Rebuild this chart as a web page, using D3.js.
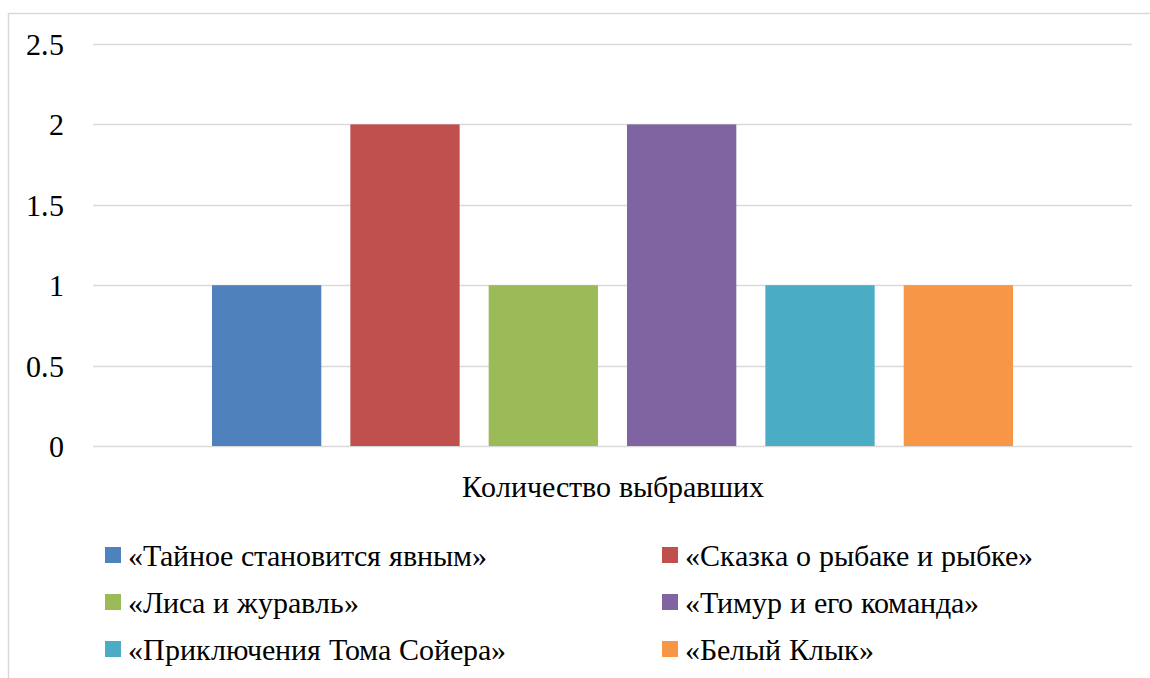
<!DOCTYPE html>
<meta charset="utf-8">
<style>
    @font-face {
        font-family: "ChartSerif";
        src: local("Liberation Serif"), local("LiberationSerif"), local("Liberation Serif Regular"), local("Times New Roman");
    }

    html,
    body {
        margin: 0;
        padding: 0;
        background: #fff;
    }
</style>
<body>
<svg width="1150" height="678"></svg>
<script src="https://d3js.org/d3.v7.min.js"></script>
<script>
    // chart data
    const category = "Количество выбравших";
    const books = [
        "«Тайное становится явным»",
        "«Сказка о рыбаке и рыбке»",
        "«Лиса и журавль»",
        "«Тимур и его команда»",
        "«Приключения Тома Сойера»",
        "«Белый Клык»"
    ];
    const votes = [1, 2, 1, 2, 1, 1];
    const yTicks = [0, 0.5, 1, 1.5, 2, 2.5];
    const colors = ["#4f81bd", "#c0504d", "#9bbb59", "#8064a2", "#4bacc6", "#f79646"];

    var fontSize = 30;
    var fontFamily = "ChartSerif, 'Liberation Serif', 'Times New Roman', serif";

    var svg = d3.select("svg");

    // outer chart frame (runs off the right and bottom edges)
    svg.append("rect")
        .attr("x", 8.5)
        .attr("y", 13.5)
        .attr("width", 1160)
        .attr("height", 700)
        .attr("fill", "none")
        .attr("stroke", "#d9d9d9")
        .attr("stroke-width", 1.5);

    var plot = { left: 93, right: 1132, top: 44, bottom: 446 };

    var y = d3.scaleLinear()
        .domain([0, 2.5])
        .range([plot.bottom, plot.top]);

    var x0 = d3.scaleBand()
        .domain([category])
        .range([plot.left, plot.right]);

    // series inside the single category
    var x1 = d3.scaleBand()
        .domain(books)
        .range([212, 1013])
        .paddingInner(0.21)
        .paddingOuter(0);

    // gridlines
    svg.append("g")
        .selectAll("line")
        .data(yTicks)
        .enter().append("line")
        .attr("x1", plot.left)
        .attr("x2", plot.right)
        .attr("y1", d => Math.round(y(d)) + 0.5)
        .attr("y2", d => Math.round(y(d)) + 0.5)
        .attr("stroke", "#d9d9d9")
        .attr("stroke-width", 1.5);

    // y tick labels
    svg.append("g")
        .selectAll("text")
        .data(yTicks)
        .enter().append("text")
        .attr("x", 64)
        .attr("y", d => y(d) + 11)
        .attr("text-anchor", "end")
        .attr("font-family", fontFamily)
        .attr("font-size", fontSize)
        .text(d => d3.format("")(d));

    // bars
    svg.append("g")
        .selectAll("rect")
        .data(books)
        .enter().append("rect")
        .attr("x", d => x1(d))
        .attr("y", (d, i) => y(votes[i]))
        .attr("width", x1.bandwidth())
        .attr("height", (d, i) => y(0) - y(votes[i]))
        .attr("fill", (d, i) => colors[i]);

    // category label
    svg.append("text")
        .attr("x", x0(category) + x0.bandwidth() / 2)
        .attr("y", 497)
        .attr("text-anchor", "middle")
        .attr("font-family", fontFamily)
        .attr("font-size", fontSize)
        .text(category);

    // legend, two columns
    var legend = svg.append("g")
        .selectAll("g")
        .data(books)
        .enter().append("g")
        .attr("transform", (d, i) => "translate(" + (i % 2 === 0 ? 105 : 662) + "," + (547 + Math.floor(i / 2) * 47) + ")");

    legend.append("rect")
        .attr("width", 16)
        .attr("height", 16)
        .attr("fill", (d, i) => colors[i]);

    legend.append("text")
        .attr("x", 23)
        .attr("y", 19)
        .attr("font-family", fontFamily)
        .attr("font-size", fontSize)
        .text(d => d);
</script>
</body>
